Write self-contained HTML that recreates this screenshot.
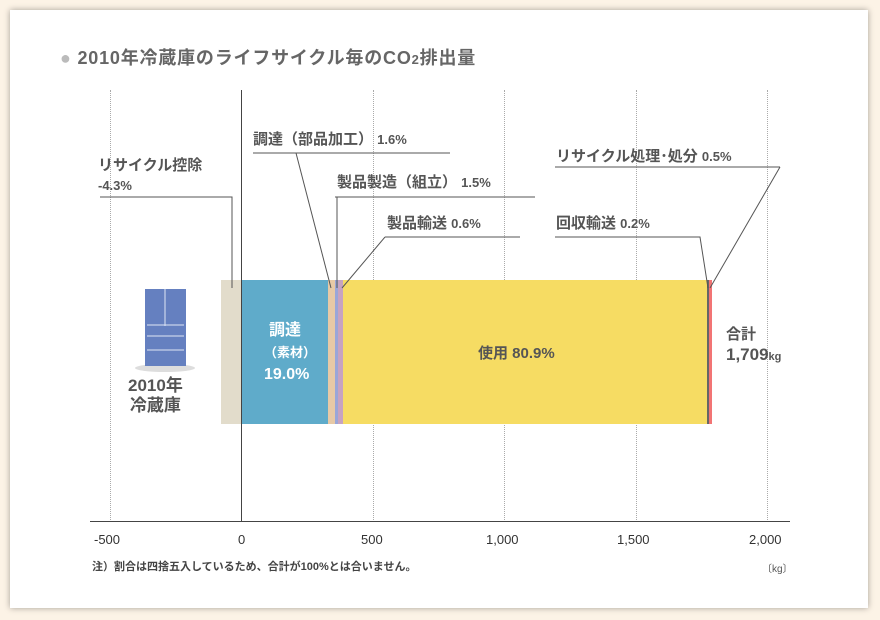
<!DOCTYPE html>
<html><head><meta charset="utf-8"><style>
body{margin:0;width:880px;height:620px;background:#fcf3e6;font-family:"Liberation Sans","Noto Sans CJK JP",sans-serif;position:relative;overflow:hidden}
.panel{position:absolute;left:10px;top:10px;width:858px;height:598px;background:#fff;box-shadow:0 0 6px rgba(0,0,0,.35)}
.t{position:absolute;color:#555;font-weight:bold;white-space:nowrap}
.g{position:absolute;top:90px;height:432px;border-left:1px dotted #aaa}
.s{position:absolute;top:280px;height:144px}
</style></head><body>
<div class="panel"></div>
<div class="t" style="left:60px;top:44px;font-size:18px;letter-spacing:0.8px;color:#666"><span style="color:#bbb">●</span> 2010年冷蔵庫のライフサイクル毎のCO<span style="font-size:13px">2</span>排出量</div>
<div class="g" style="left:110px"></div><div class="g" style="left:373px"></div><div class="g" style="left:504px"></div><div class="g" style="left:636px"></div><div class="g" style="left:767px"></div>
<div class="s" style="left:221px;width:21px;background:#e2dccb"></div>
<div class="s" style="left:242px;width:86px;background:#5fabca"></div>
<div class="s" style="left:328px;width:7px;background:#e7c9a6"></div>
<div class="s" style="left:335px;width:3px;background:#9aa6d8"></div>
<div class="s" style="left:338px;width:5px;background:#c7a3c0"></div>
<div class="s" style="left:343px;width:364px;background:#f6dc63"></div>
<div class="s" style="left:707px;width:2px;background:#666"></div>
<div class="s" style="left:709px;width:3px;background:#f27474"></div>
<div style="position:absolute;left:241px;top:90px;width:1px;height:432px;background:#444"></div>
<div style="position:absolute;left:90px;top:521px;width:700px;height:1px;background:#444"></div>
<svg style="position:absolute;left:0;top:0" width="880" height="620">
<g stroke="#555" stroke-width="1" fill="none">
<polyline points="100,197 232,197 232,288"/>
<polyline points="253,153 450,153"/><line x1="296" y1="153" x2="331" y2="288"/>
<polyline points="335,197 535,197"/><line x1="337" y1="197" x2="337" y2="288"/>
<polyline points="385,237 520,237"/><line x1="385" y1="237" x2="342" y2="288"/>
<polyline points="555,237 700,237 708,288"/>
<polyline points="555,167 780,167"/><line x1="780" y1="167" x2="710" y2="288"/>
</g>
<ellipse cx="165" cy="368" rx="30" ry="4" fill="#ddd"/>
<rect x="145" y="289" width="41" height="77" fill="#6580c0"/>
<g stroke="#dfe6f5" stroke-width="1"><line x1="165" y1="289" x2="165" y2="326"/><line x1="147" y1="325" x2="184" y2="325"/><line x1="147" y1="336" x2="184" y2="336"/><line x1="147" y1="350" x2="184" y2="350"/></g>
</svg>
<div class="t" style="left:128px;top:376px;font-size:17px;text-align:center;line-height:20px">2010年<br>冷蔵庫</div>
<div class="t" style="left:264px;top:320px;font-size:16px;color:#fff;text-align:center;line-height:22px;width:42px">調達<br><span style="font-size:13px">（素材）</span><br>19.0%</div>
<div class="t" style="left:478px;top:342px;font-size:15px">使用 80.9%</div>
<div class="t" style="left:726px;top:325px;font-size:15px;line-height:20px">合計<br><span style="font-size:17px">1,709</span><span style="font-size:11px">kg</span></div>
<div class="t" style="left:98px;top:156px;font-size:15px;line-height:20px">リサイクル控除<br><span style="font-size:13px">-4.3%</span></div>
<div class="t" style="left:253px;top:128px;font-size:15px">調達（部品加工） <span style="font-size:13px">1.6%</span></div>
<div class="t" style="left:337px;top:171px;font-size:15px">製品製造（組立） <span style="font-size:13px">1.5%</span></div>
<div class="t" style="left:387px;top:212px;font-size:15px">製品輸送 <span style="font-size:13px">0.6%</span></div>
<div class="t" style="left:556px;top:212px;font-size:15px">回収輸送 <span style="font-size:13px">0.2%</span></div>
<div class="t" style="left:556px;top:145px;font-size:15px">リサイクル処理･処分 <span style="font-size:13px">0.5%</span></div>
<div class="t" style="left:94px;top:532px;font-size:13px;font-weight:normal;color:#333">-500</div>
<div class="t" style="left:238px;top:532px;font-size:13px;font-weight:normal;color:#333">0</div>
<div class="t" style="left:361px;top:532px;font-size:13px;font-weight:normal;color:#333">500</div>
<div class="t" style="left:486px;top:532px;font-size:13px;font-weight:normal;color:#333">1,000</div>
<div class="t" style="left:617px;top:532px;font-size:13px;font-weight:normal;color:#333">1,500</div>
<div class="t" style="left:749px;top:532px;font-size:13px;font-weight:normal;color:#333">2,000</div>
<div class="t" style="left:92px;top:558px;font-size:11px;color:#444">注）割合は四捨五入しているため、合計が100%とは合いません。</div>
<div class="t" style="left:762px;top:560px;font-size:10px;font-weight:normal">〔kg〕</div>
</body></html>
